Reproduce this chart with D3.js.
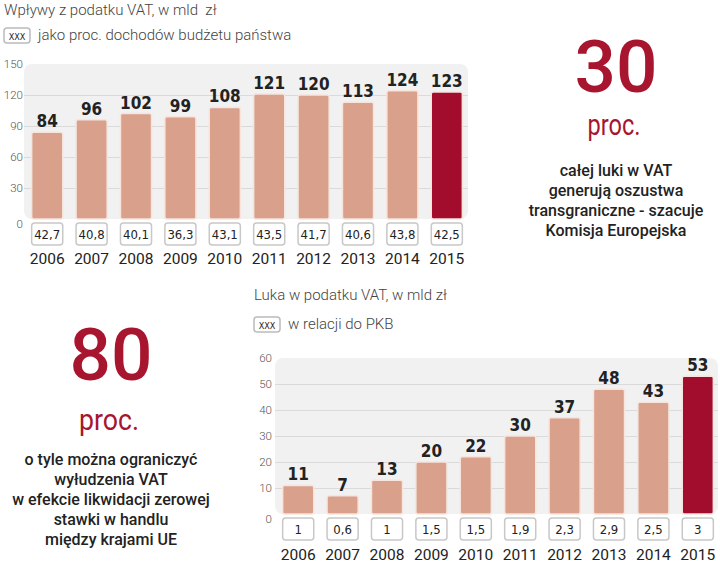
<!DOCTYPE html>
<html>
<head>
<meta charset="utf-8">
<script src="https://cdn.jsdelivr.net/npm/d3@7"></script>
<style>
  body { margin: 0; background: #fff; }
  svg { display: block; }
</style>
</head>
<body>
<div id="chart"></div>
<script>
// Data
const years = ["2006", "2007", "2008", "2009", "2010", "2011", "2012", "2013", "2014", "2015"];
const vatRevenue = [84, 96, 102, 99, 108, 121, 120, 113, 124, 123];
const vatShareOfBudget = ["42,7", "40,8", "40,1", "36,3", "43,1", "43,5", "41,7", "40,6", "43,8", "42,5"];
const vatGap = [11, 7, 13, 20, 22, 30, 37, 48, 43, 53];
const vatGapShareOfGdp = ["1", "0,6", "1", "1,5", "1,5", "1,9", "2,3", "2,9", "2,5", "3"];
const revenueTicks = [0, 30, 60, 90, 120, 150];
const gapTicks = [0, 10, 20, 30, 40, 50, 60];

const salmon = "#d9a08b";
const darkRed = "#a30d2d";
const accentRed = "#a8152f";
const condensed = "'DejaVu Sans Condensed', 'DejaVu Sans', sans-serif";

const svg = d3.select("#chart")
  .append("svg")
  .attr("width", 720)
  .attr("height", 563);

function drawPanel(cfg) {
  const g = svg.append("g");

  // Title and legend
  g.append("text")
    .attr("x", cfg.titleX)
    .attr("y", cfg.titleY)
    .attr("font-family", "Roboto, sans-serif")
    .attr("font-weight", 300)
    .attr("font-size", 15)
    .attr("fill", "#444")
    .style("white-space", "pre")
    .text(cfg.title);

  g.append("rect")
    .attr("x", cfg.titleX)
    .attr("y", cfg.legendY - 12)
    .attr("width", 26)
    .attr("height", 15)
    .attr("rx", 3)
    .attr("fill", "#fff")
    .attr("stroke", "#bbb")
    .attr("stroke-width", 1.5);

  g.append("text")
    .attr("x", cfg.titleX + 13)
    .attr("y", cfg.legendY - 0.5)
    .attr("text-anchor", "middle")
    .attr("font-family", condensed)
    .attr("font-size", 9)
    .attr("fill", "#222")
    .text("XXX");

  g.append("text")
    .attr("x", cfg.titleX + 34)
    .attr("y", cfg.legendY)
    .attr("font-family", "Roboto, sans-serif")
    .attr("font-weight", 300)
    .attr("font-size", 15)
    .attr("fill", "#444")
    .text(cfg.legendText);

  // Scales
  const x = d3.scaleBand()
    .domain(years)
    .range(cfg.xRange)
    .paddingInner(0.3)
    .paddingOuter(0.15);

  const y = d3.scaleLinear()
    .domain([0, d3.max(cfg.ticks)])
    .range(cfg.yRange);

  // Plot background
  g.append("rect")
    .attr("x", cfg.bgX[0])
    .attr("y", y(d3.max(cfg.ticks)))
    .attr("width", cfg.bgX[1] - cfg.bgX[0])
    .attr("height", y(0) - y(d3.max(cfg.ticks)))
    .attr("rx", 8)
    .attr("fill", "#f1f1f1");

  // Gridlines
  g.append("g")
    .attr("transform", `translate(${cfg.bgX[0]},0)`)
    .call(d3.axisRight(y)
      .tickValues(cfg.ticks.slice(1, -1))
      .tickSize(cfg.bgX[1] - cfg.bgX[0])
      .tickFormat(""))
    .call(s => s.select(".domain").remove())
    .call(s => s.selectAll("line").attr("stroke", "#dadada"));

  // Y axis labels
  g.append("g")
    .attr("transform", `translate(${cfg.tickX},0)`)
    .call(d3.axisLeft(y).tickValues(cfg.ticks).tickSize(0).tickPadding(0))
    .call(s => s.select(".domain").remove())
    .call(s => s.selectAll("text")
      .attr("font-family", "Roboto, sans-serif")
      .attr("font-weight", 300)
      .attr("font-size", 11.5)
      .attr("fill", "#555")
      .attr("dy", d => d === 0 ? "0.75em" : "0.32em"));

  // Bars
  g.selectAll(".bar")
    .data(cfg.values)
    .enter()
    .append("rect")
    .attr("class", "bar")
    .attr("x", (d, i) => x(years[i]))
    .attr("y", d => y(d))
    .attr("width", x.bandwidth())
    .attr("height", d => y(0) - y(d))
    .attr("rx", 2)
    .attr("fill", (d, i) => i === years.length - 1 ? darkRed : salmon)
    .attr("stroke", "#f6e4dd")
    .attr("stroke-width", 1.5);

  // Value labels
  g.selectAll(".value")
    .data(cfg.values)
    .enter()
    .append("text")
    .attr("class", "value")
    .attr("x", (d, i) => x(years[i]) + x.bandwidth() / 2)
    .attr("y", d => y(d) - 5)
    .attr("text-anchor", "middle")
    .attr("font-family", condensed)
    .attr("font-stretch", "condensed")
    .attr("font-weight", 700)
    .attr("font-size", 17)
    .attr("fill", "#222")
    .text(d => d);

  // Percentage boxes
  g.selectAll(".box")
    .data(cfg.shares)
    .enter()
    .append("rect")
    .attr("class", "box")
    .attr("x", (d, i) => x(years[i]))
    .attr("y", cfg.boxY)
    .attr("width", x.bandwidth())
    .attr("height", 22)
    .attr("rx", 3)
    .attr("fill", "#fff")
    .attr("stroke", "#c8c8c8")
    .attr("stroke-width", 1.5);

  g.selectAll(".share")
    .data(cfg.shares)
    .enter()
    .append("text")
    .attr("class", "share")
    .attr("x", (d, i) => x(years[i]) + x.bandwidth() / 2)
    .attr("y", cfg.boxY + 16)
    .attr("text-anchor", "middle")
    .attr("font-family", condensed)
    .attr("font-stretch", "condensed")
    .attr("font-size", 13)
    .attr("fill", "#222")
    .text(d => d);

  // Year labels
  g.selectAll(".year")
    .data(years)
    .enter()
    .append("text")
    .attr("class", "year")
    .attr("x", d => x(d) + x.bandwidth() / 2)
    .attr("y", cfg.yearY)
    .attr("text-anchor", "middle")
    .attr("font-family", "Roboto, sans-serif")
    .attr("font-size", 15.5)
    .attr("fill", "#222")
    .text(d => d);
}

drawPanel({
  title: "Wpływy z podatku VAT, w mld  zł",
  legendText: "jako proc. dochodów budżetu państwa",
  titleX: 4, titleY: 15, legendY: 40,
  xRange: [25, 469], yRange: [219, 64], bgX: [24, 468], tickX: 23,
  ticks: revenueTicks, values: vatRevenue, shares: vatShareOfBudget,
  boxY: 223, yearY: 264
});

drawPanel({
  title: "Luka w podatku VAT, w mld zł",
  legendText: "w relacji do PKB",
  titleX: 254, titleY: 300, legendY: 329,
  xRange: [276, 720], yRange: [514, 358], bgX: [275, 718], tickX: 272,
  ticks: gapTicks, values: vatGap, shares: vatGapShareOfGdp,
  boxY: 518, yearY: 560
});

// Highlight callouts
function callout(cx, number, numberY, procY, procWidth, lines, firstLineY) {
  svg.append("text")
    .attr("x", cx)
    .attr("y", numberY)
    .attr("text-anchor", "middle")
    .attr("font-family", "Roboto, sans-serif")
    .attr("font-weight", 500)
    .attr("font-size", 73)
    .attr("fill", accentRed)
    .text(number);

  svg.append("text")
    .attr("x", cx - 2)
    .attr("y", procY)
    .attr("text-anchor", "middle")
    .attr("font-family", "Roboto, sans-serif")
    .attr("font-weight", 400)
    .attr("font-size", 30)
    .attr("textLength", procWidth)
    .attr("lengthAdjust", "spacingAndGlyphs")
    .attr("fill", accentRed)
    .text("proc.");

  svg.append("g")
    .selectAll("text")
    .data(lines)
    .enter()
    .append("text")
    .attr("x", cx)
    .attr("y", (d, i) => firstLineY + i * 20)
    .attr("text-anchor", "middle")
    .attr("font-family", "Roboto, sans-serif")
    .attr("font-weight", 500)
    .attr("font-size", 16)
    .attr("fill", "#222")
    .text(d => d);
}

callout(616, "30", 92, 135, 53,
  ["całej luki w VAT", "generują oszustwa", "transgraniczne - szacuje", "Komisja Europejska"], 176);

callout(111, "80", 380, 430, 60,
  ["o tyle można ograniczyć", "wyłudzenia VAT", "w efekcie likwidacji zerowej", "stawki w handlu", "między krajami UE"], 465);
</script>
</body>
</html>
